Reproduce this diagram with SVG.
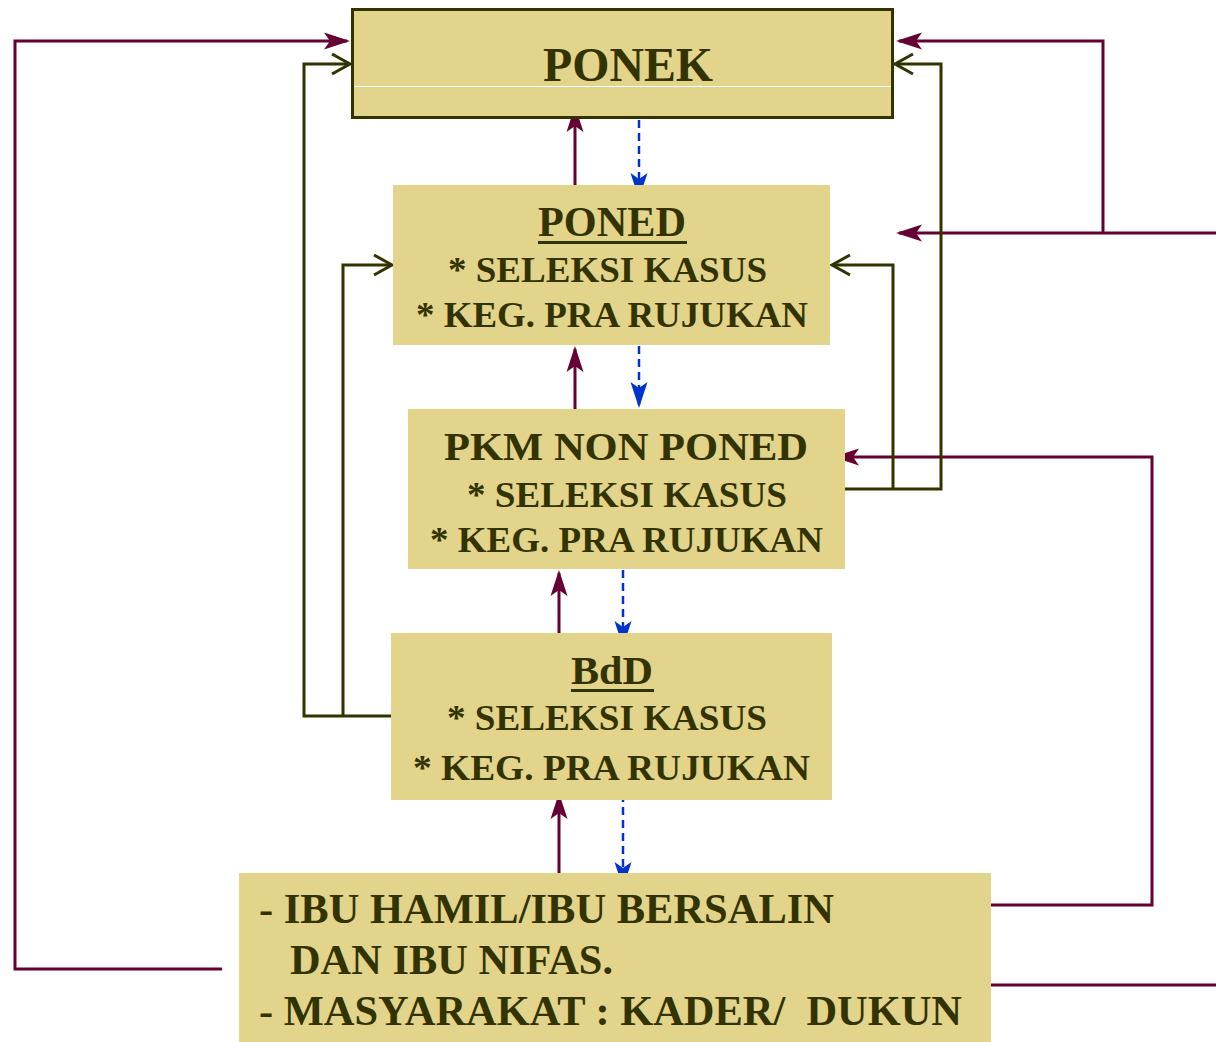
<svg xmlns="http://www.w3.org/2000/svg" width="1216" height="1042" viewBox="0 0 1216 1042">
  <style>
    .box { fill: #e3d48b; }
    .lbl { font-family: "Liberation Serif", "Times New Roman", serif; font-weight: bold; fill: #333300; }
    .ref { fill: none; stroke: #660033; stroke-width: 3; }
    .back { fill: none; stroke: #333300; stroke-width: 3; }
    .fb { fill: none; stroke: #0033cc; stroke-width: 2.5; stroke-dasharray: 8 5; }
    marker { overflow: visible; }
  </style>
  <defs>
    <marker id="mArrow" markerUnits="userSpaceOnUse" markerWidth="40" markerHeight="40" refX="0" refY="0" orient="auto">
      <path d="M3,0 L-23,-8.5 L-17,0 L-23,8.5 Z" fill="#660033"/>
    </marker>
    <marker id="bArrow" markerUnits="userSpaceOnUse" markerWidth="40" markerHeight="40" refX="0" refY="0" orient="auto">
      <path d="M3,0 L-23,-8.5 L-17,0 L-23,8.5 Z" fill="#0033cc"/>
    </marker>
    <marker id="oOpen" markerUnits="userSpaceOnUse" markerWidth="40" markerHeight="40" refX="0" refY="0" orient="auto">
      <path d="M-17,-10 L1,0 L-17,10" fill="none" stroke="#333300" stroke-width="3"/>
    </marker>
  </defs>

  <rect width="1216" height="1042" fill="#ffffff"/>

  <!-- connectors -->
  <g id="connectors">
    <!-- referral lines (maroon) -->
    <path class="ref" d="M222,969 H15 V41 H347" marker-end="url(#mArrow)"/>
    <path class="ref" d="M1216,233 H899" marker-end="url(#mArrow)"/>
    <path class="ref" d="M1103,233 V41 H899" marker-end="url(#mArrow)"/>
    <path class="ref" d="M991,905 H1152 V457 H836" marker-end="url(#mArrow)"/>
    <path class="ref" d="M991,985 H1216"/>
    <path class="ref" d="M575,185 V109" marker-end="url(#mArrow)"/>
    <path class="ref" d="M575,409 V349" marker-end="url(#mArrow)"/>
    <path class="ref" d="M559,649 V573" marker-end="url(#mArrow)"/>
    <path class="ref" d="M559,873 V796" marker-end="url(#mArrow)"/>

    <!-- back-referral lines (olive) -->
    <path class="back" d="M391,716 H304 V64 H349" marker-end="url(#oOpen)"/>
    <path class="back" d="M343,716 V265 H391" marker-end="url(#oOpen)"/>
    <path class="back" d="M845,489 H941 V64 H896" marker-end="url(#oOpen)"/>
    <path class="back" d="M893,489 V265 H833" marker-end="url(#oOpen)"/>

    <!-- feedback lines (blue dashed) -->
    <path class="fb" d="M639,120 V196" marker-end="url(#bArrow)"/>
    <path class="fb" d="M639,346 V405" marker-end="url(#bArrow)"/>
    <path class="fb" d="M623,570 V644" marker-end="url(#bArrow)"/>
    <path class="fb" d="M623,794 V885" marker-end="url(#bArrow)"/>
  </g>

  <!-- PONEK -->
  <g id="ponek">
    <rect x="352.5" y="9.5" width="540" height="108" fill="#e3d48b" stroke="#333300" stroke-width="3"/>
    <line x1="354" y1="86.5" x2="891" y2="86.5" stroke="#ffffff" stroke-width="1"/>
    <text class="lbl" x="543" y="81" font-size="48" textLength="170" lengthAdjust="spacingAndGlyphs">PONEK</text>
  </g>

  <!-- PONED -->
  <g id="poned">
    <rect class="box" x="393" y="185" width="437" height="160"/>
    <text class="lbl" x="538" y="236" font-size="43" textLength="148" lengthAdjust="spacingAndGlyphs">PONED</text>
    <rect x="538" y="241" width="149" height="3" fill="#333300"/>
    <text class="lbl" x="448" y="282" font-size="36" textLength="319" lengthAdjust="spacingAndGlyphs">* SELEKSI KASUS</text>
    <text class="lbl" x="416" y="327" font-size="36" textLength="392" lengthAdjust="spacingAndGlyphs">* KEG. PRA RUJUKAN</text>
  </g>

  <!-- PKM NON PONED -->
  <g id="pkm">
    <rect class="box" x="408" y="409" width="437" height="160"/>
    <text class="lbl" x="444" y="460" font-size="40" textLength="364" lengthAdjust="spacingAndGlyphs">PKM NON PONED</text>
    <text class="lbl" x="467" y="507" font-size="36" textLength="320" lengthAdjust="spacingAndGlyphs">* SELEKSI KASUS</text>
    <text class="lbl" x="430" y="552" font-size="36" textLength="393" lengthAdjust="spacingAndGlyphs">* KEG. PRA RUJUKAN</text>
  </g>

  <!-- BdD -->
  <g id="bdd">
    <rect class="box" x="391" y="633" width="441" height="167"/>
    <text class="lbl" x="571" y="684" font-size="40" textLength="82" lengthAdjust="spacingAndGlyphs">BdD</text>
    <rect x="571" y="689" width="83" height="3" fill="#333300"/>
    <text class="lbl" x="447" y="730" font-size="36" textLength="320" lengthAdjust="spacingAndGlyphs">* SELEKSI KASUS</text>
    <text class="lbl" x="413" y="780" font-size="36" textLength="397" lengthAdjust="spacingAndGlyphs">* KEG. PRA RUJUKAN</text>
  </g>

  <!-- Ibu hamil / masyarakat -->
  <g id="masyarakat">
    <rect class="box" x="239" y="873" width="752" height="169"/>
    <text class="lbl" x="259" y="923" font-size="42" textLength="575" lengthAdjust="spacingAndGlyphs">- IBU HAMIL/IBU BERSALIN</text>
    <text class="lbl" x="290" y="974" font-size="42" textLength="323" lengthAdjust="spacingAndGlyphs">DAN IBU NIFAS.</text>
    <text class="lbl" x="259" y="1025" font-size="42" textLength="703" lengthAdjust="spacingAndGlyphs" xml:space="preserve">- MASYARAKAT : KADER/  DUKUN</text>
  </g>
</svg>
